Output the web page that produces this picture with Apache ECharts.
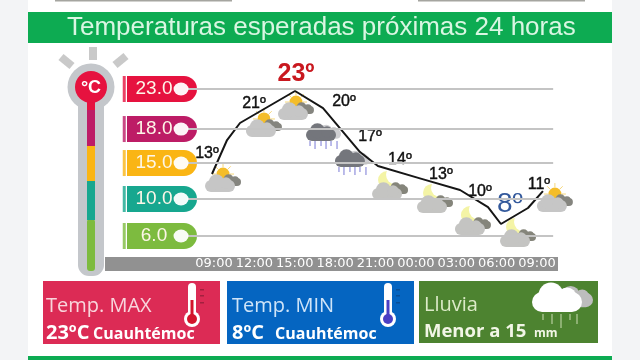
<!DOCTYPE html>
<html>
<head>
<meta charset="utf-8">
<title>Temperaturas esperadas</title>
<script src="https://cdn.jsdelivr.net/npm/echarts@6/dist/echarts.min.js"></script>
<style>
	html,body{margin:0;padding:0;background:linear-gradient(to right,#f3f4f6 28px,#fff 28px,#fff 612px,#f3f4f6 612px);}
	#main{width:640px;height:360px;}
</style>
</head>
<body>
<div id="main"></div>
<script>
	// horas desde las 09:00
	var timeTicks = [0,3,6,9,12,15,18,21,24]
	var timeLabels = ['09:00','12:00','15:00','18:00','21:00','00:00','03:00','06:00','09:00']
	// escala vertical
	var tempTicks = [23,18.37,14.44,10.28,6]
	var tempTickLabels = ['23.0','18.0','15.0','10.0','6.0']
	var tempTickColors = ['#e6123f','#bd1c66','#fab514','#17a78f','#7dbb3f']
	// la linea
	var lineHours = [-0.15,0.97,1.93,6.02,8.1,10.85,12.18,15.3,18.28,20.36,21.32,23.33,24.44]
	var lineTemps = [13.17,17.1,19.07,22.77,20.8,15.71,14.1,12.67,11.32,9.35,7.39,9.24,11.2]
	var lineLabels = ['13º','','21º','23º','20º','17º','14º','13º','10º','','8º','','11º']
	// iconos del clima
	var iconHours = [0.67,3.71,6.09,8.1,10.25,13.08,16.42,19.24,22.59,25.33]
	var iconTemps = [12.24,18.61,20.57,17.45,14.44,11.32,9.82,7.27,5.88,9.93]
	var iconTypes = ['sol','sol','sol','lluvia','lluvia','luna','luna','luna','luna','sol']

	var labelOffsets = {0:[-5,-20],2:[14,-19],3:[1,-17],4:[21,-6],5:[10,-15],6:[22,-6],7:[21,-4],8:[20,2],10:[9,-20],12:[-4,-6]}
	var font = 'Liberation Sans'
	var panelFont = 'Open Sans'

	var lineData = lineHours.map(function(h,i){
		var txt = lineLabels[i]
		var item = {value:[h,lineTemps[i]]}
		if(txt){
			item.label = {show:true,position:'inside',formatter:txt,offset:labelOffsets[i],fontFamily:font,fontSize:16,color:'#111',textBorderColor:'#111',textBorderWidth:0.4}
			if(i == 3){ item.label.fontSize = 25; item.label.color = '#c9181f'; item.label.fontWeight = 'bold'; item.label.textBorderWidth = 0 }
			if(i == 10){ item.label.fontSize = 28; item.label.color = '#33599c'; item.label.textBorderWidth = 0 }
		}
		return item
	})

	// nube: rectangulo redondeado y dos circulos
	function nube(x,y,w,c){
		var r = w/5
		return [
			{type:'rect',shape:{x:x-w/2,y:y-r,width:w,height:r*2,r:r},style:{fill:c}},
			{type:'circle',shape:{cx:x-w*0.12,cy:y-r*0.7,r:r*1.25},style:{fill:c}},
			{type:'circle',shape:{cx:x+w*0.2,cy:y-r*0.5,r:r*0.95},style:{fill:c}}
		]
	}

	function renderIcono(params,api){
		var p = api.coord([api.value(0),api.value(1)])
		var x = p[0], y = p[1]
		var tipo = iconTypes[params.dataIndex]
		var ch = []
		if(tipo == 'sol'){
			for(var a=0;a<5;a++){
				var ang = Math.PI*(1+a/4)
				ch.push({type:'line',shape:{x1:x+Math.cos(ang)*7,y1:y-8+Math.sin(ang)*7,x2:x+Math.cos(ang)*11,y2:y-8+Math.sin(ang)*11},style:{stroke:'#f6d77a',lineWidth:1}})
			}
			ch.push({type:'circle',shape:{cx:x,cy:y-8,r:6.5},style:{fill:'#f4bd2a'}})
			ch = ch.concat(nube(x+8,y,20,'#85857f'))
			ch = ch.concat(nube(x-3,y+4,30,'#c6c6c6'))
		}else if(tipo == 'lluvia'){
			ch = ch.concat(nube(x+6,y-3,24,'#cfcfd2'))
			ch = ch.concat(nube(x-2,y-2,30,'#74767c'))
			var dx = [-13,-8,-2,3,8,14]
			dx.forEach(function(d,i){
				ch.push({type:'line',shape:{x1:x+d,y1:y+4,x2:x+d,y2:y+9+(i%2)*3},style:{stroke:'#8f8fdc',lineWidth:1.2}})
			})
		}else{
			ch.push({type:'circle',shape:{cx:x-3,cy:y-10,r:9},style:{fill:'#f4f4a6'}})
			ch.push({type:'circle',shape:{cx:x+5,cy:y-15,r:9},style:{fill:'#fff'}})
			ch = ch.concat(nube(x+8,y,20,'#85857b'))
			ch = ch.concat(nube(x-3,y+4,30,'#c4c4c2'))
		}
		return {type:'group',children:ch}
	}

	function barra(y1,y2,c){
		return {type:'rect',shape:{x:87,y:y1,width:8,height:y2-y1},style:{fill:c}}
	}
	function rayo(x1,y1,x2,y2){
		return {type:'line',shape:{x1:x1,y1:y1,x2:x2,y2:y2},style:{stroke:'#c9c9c9',lineWidth:8}}
	}
	function texto(x,y,t,size,color,weight,family){
		return {type:'text',x:x,y:y,style:{text:t,fontSize:size,fill:color,fontWeight:weight||'normal',fontFamily:family||panelFont,verticalAlign:'middle'}}
	}
	function caja(x,y,w,h,c){
		return {type:'rect',shape:{x:x,y:y,width:w,height:h},style:{fill:c}}
	}
	function termometro(x,fill,marca){
		return [
			{type:'rect',shape:{x:x-4,y:283,width:8,height:38,r:4},style:{fill:'#fff'}},
			{type:'circle',shape:{cx:x,cy:319,r:8},style:{fill:'#fff'}},
			{type:'rect',shape:{x:x-1.5,y:300,width:3,height:18},style:{fill:fill}},
			{type:'circle',shape:{cx:x,cy:319,r:5},style:{fill:fill}},
			caja(x+8,289,4,1.5,marca), caja(x+8,295,4,1.5,marca), caja(x+8,302,4,1.5,marca)
		]
	}

	var adornos = [
		// tiras de arriba y abajo
		caja(55,0,177,1.5,'#a5a5a0'), caja(418,0,167,1.5,'#a5a5a0'),
		caja(28,356,584,4,'#0dab52'),
		// termometro
		rayo(61,57,72,66), rayo(93,47,93,60), rayo(126,56,115,65),
		{type:'circle',shape:{cx:91,cy:87,r:23.5},style:{fill:'#c4c7cb'}},
		{type:'rect',shape:{x:78,y:95,width:26,height:181,r:11},style:{fill:'#c4c7cb'}},
		{type:'rect',shape:{x:87,y:219,width:8,height:52,r:3},style:{fill:tempTickColors[4]}},
		barra(181,220,tempTickColors[3]), barra(146,181,tempTickColors[2]),
		barra(110,146,tempTickColors[1]), barra(98,110,tempTickColors[0]),
		{type:'circle',shape:{cx:91,cy:87,r:16},style:{fill:'#e6123f'}},
		{type:'text',x:91,y:88,style:{text:'°C',fontSize:18,fontWeight:'bold',fill:'#fff',fontFamily:font,align:'center',verticalAlign:'middle'}},
		// cuadros de abajo
		caja(43,281,177,63,'#dc2b55'),
		caja(227,281,187,63,'#0565c1'),
		caja(419,281,179,62,'#4d8330'),
		texto(46,306,'Temp. MAX',20,'#f8d5dc'),
		texto(46,333,'23ºC',20,'#fff','bold'),
		texto(93,334,'Cuauhtémoc',16,'#fff','bold'),
		texto(232,306,'Temp. MIN',20,'#cfe4f8'),
		texto(232,333,'8ºC',20,'#fff','bold'),
		texto(275,334,'Cuauhtémoc',16,'#fff','bold'),
		texto(424,305,'Lluvia',20,'#dcebc8'),
		texto(424,332,'Menor a 15',18.5,'#f2f6e6','bold'),
		texto(534,334,'mm',12,'#f2f6e6','bold')
	]
	adornos = adornos.concat(termometro(192,'#d3142c','#a3203f'),termometro(388,'#4a3fc4','#0a4f96'))
	adornos = adornos.concat(nube(575,300,36,'#bdbdbd'),nube(557,302,50,'#fff'))
	;[543,552,561,570,577].forEach(function(x,i){
		adornos.push({type:'line',shape:{x1:x,y1:314,x2:x,y2:320+(i%3)*4},style:{stroke:'#b7cf9e',lineWidth:1.2}})
	})

	var myChart = echarts.init(document.getElementById('main'))
	var option = {
		animation:false,
		title:{
			text:'Temperaturas esperadas próximas 24 horas',
			left:28,top:12,
			padding:[1,0,1,39],
			backgroundColor:'#0dab52',
			textStyle:{color:'#d9f6e2',fontSize:26,fontWeight:'normal',fontFamily:font,width:545,height:29,lineHeight:29}
		},
		grid:{left:105,right:82,top:59.6,bottom:96.3},
		xAxis:{
			type:'value',min:-8.1,max:25.56,
			splitLine:{show:false},
			axisLine:{show:true,onZero:false,lineStyle:{color:'#919191',width:14,cap:'butt'}},
			axisTick:{show:false},
			axisLabel:{
				customValues:timeTicks,
				margin:0,
				verticalAlign:'middle',
				color:'#fff',fontFamily:'DejaVu Sans',fontSize:13,
				formatter:function(v){ return timeLabels[timeTicks.indexOf(v)] }
			}
		},
		yAxis:{
			type:'value',min:2.8,max:26.4,
			axisLine:{show:false},axisTick:{show:false},splitLine:{show:false},
			axisLabel:{
				customValues:tempTicks,
				inside:true,margin:22,
				showMinLabel:true,showMaxLabel:true,
				formatter:function(v){
					var i = tempTicks.indexOf(v)
					return '{p'+i+'|'+tempTickLabels[i]+'}'
				},
				rich:tempTickColors.reduce(function(r,c,i){
					r['p'+i] = {backgroundColor:c,color:'#fdf6e8',fontFamily:font,fontSize:19,width:54,height:26,lineHeight:26,align:'center',padding:[0,16,0,0],borderRadius:[0,13,13,0]}
					return r
				},{})
			}
		},
		series:[
			{
				// lineas guia
				type:'line',name:'guias',data:[],silent:true,
				markLine:{
					silent:true,symbol:'none',label:{show:false},
					lineStyle:{color:'#c4c4c4',width:2,type:'solid'},
					data:tempTicks.map(function(t){ return [{coord:[-2,t]},{coord:[25.2,t]}] })
				}
			},
			{
				// barrita de color a la izquierda de cada etiqueta
				type:'scatter',silent:true,symbol:'rect',symbolSize:[3,26],
				data:tempTicks.map(function(t,i){ return {value:[-6.67,t],itemStyle:{color:tempTickColors[i]}} })
			},
			{
				// punto blanco de cada etiqueta
				type:'scatter',silent:true,symbolSize:[15,13],z:5,
				itemStyle:{color:'#fff',opacity:0.95},
				data:tempTicks.map(function(t){ return [-2.45,t] })
			},
			{
				type:'custom',silent:true,z:3,
				renderItem:renderIcono,
				data:iconHours.map(function(h,i){ return [h,iconTemps[i]] })
			},
			{
				type:'line',z:4,silent:true,
				showSymbol:true,showAllSymbol:true,symbolSize:0,
				lineStyle:{color:'#161616',width:2},
				itemStyle:{color:'#161616'},
				data:lineData
			}
		],
		graphic:{elements:adornos}
	}
	myChart.setOption(option)
</script>
</body>
</html>
